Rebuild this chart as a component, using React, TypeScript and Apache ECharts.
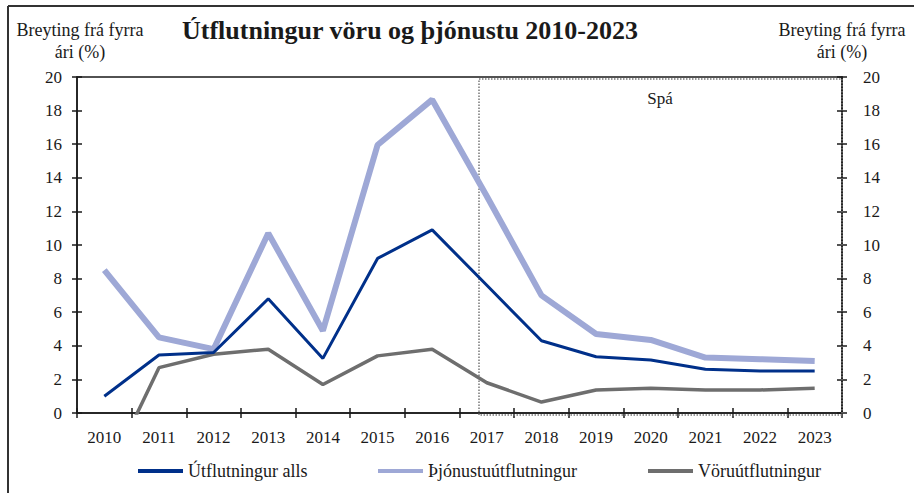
import React, { useEffect, useRef } from "react";
import * as echarts from "echarts";

const years = ["2010", "2011", "2012", "2013", "2014", "2015", "2016", "2017", "2018", "2019", "2020", "2021", "2022", "2023"];
const totalExports = [1.0, 3.45, 3.6, 6.8, 3.25, 9.2, 10.9, 7.6, 4.3, 3.35, 3.15, 2.6, 2.5, 2.5];
const serviceExports = [8.5, 4.5, 3.8, 10.7, 4.9, 15.95, 18.65, 12.9, 7.0, 4.7, 4.35, 3.3, 3.2, 3.1];
const goodsExports = [-4.1, 2.7, 3.5, 3.8, 1.7, 3.4, 3.8, 1.8, 0.65, 1.37, 1.47, 1.37, 1.37, 1.47];
const seriesNames = ["Útflutningur alls", "Þjónustuútflutningur", "Vöruútflutningur"];
const titleText = "Útflutningur vöru og þjónustu 2010-2023";
const axisName = "Breyting frá fyrra\nári (%)";
const forecastLabel = "Spá";

const FONT = "Liberation Serif";
const INK = "#1a1a1a";
const COLORS = ["#00308a", "#9ea8d6", "#6e6e6e"];

export default function App() {
  const ref = useRef<HTMLDivElement>(null);
  useEffect(() => {
    if (!ref.current) return;
    const chart = echarts.init(ref.current, undefined, { renderer: "svg" });
    const yMain = (pos: "left" | "right", margin: number) => ({
      type: "value",
      position: pos,
      min: 0,
      max: 20,
      interval: 2,
      name: axisName,
      nameLocation: "end",
      nameGap: 14,
      nameTextStyle: {
        fontFamily: FONT,
        fontSize: 18,
        color: INK,
        align: "center",
        verticalAlign: "bottom",
        lineHeight: 22,
        padding: pos === "left" ? [0, 0, 0, 6] : [0, 0, 0, 0],
      },
      axisLine: { show: true, lineStyle: { color: INK, width: 1.5 } },
      axisTick: { show: true, inside: false, length: 5, lineStyle: { color: INK, width: 1.5 } },
      axisLabel: { fontFamily: FONT, fontSize: 17, color: INK, margin },
      splitLine: { show: false },
    });
    const yInner = (pos: "left" | "right") => ({
      type: "value",
      position: pos,
      min: 0,
      max: 20,
      interval: 2,
      axisLine: { show: false },
      axisTick: { show: true, inside: true, length: 5, lineStyle: { color: INK, width: 1.5 } },
      axisLabel: { show: false },
      splitLine: { show: false },
    });
    const legendCommon = {
      top: 457,
      icon: "rect",
      itemWidth: 45,
      itemHeight: 4,
      textStyle: { fontFamily: FONT, fontSize: 18, color: INK },
    };
    chart.setOption({
      animation: false,
      backgroundColor: "#ffffff",
      textStyle: { fontFamily: FONT },
      grid: {
        left: 77,
        right: 72,
        top: 77,
        bottom: 80,
        show: true,
        borderColor: INK,
        borderWidth: 1.5,
        containLabel: false,
      },
      title: {
        text: titleText,
        left: 405,
        textAlign: "center",
        top: 12,
        textStyle: { fontFamily: FONT, fontSize: 26, fontWeight: "bold", color: INK },
      },
      legend: [
        { ...legendCommon, left: 133, data: [seriesNames[0]] },
        { ...legendCommon, left: 373, data: [seriesNames[1]] },
        { ...legendCommon, left: 643, data: [seriesNames[2]] },
      ],
      xAxis: [
        {
          type: "category",
          data: years,
          boundaryGap: true,
          position: "bottom",
          axisLine: { show: true, lineStyle: { color: INK, width: 1.5 } },
          axisTick: { show: true, inside: false, length: 5, lineStyle: { color: INK, width: 1.5 } },
          axisLabel: { fontFamily: FONT, fontSize: 17, color: INK, margin: 16, interval: 0 },
        },
        {
          type: "category",
          data: years,
          boundaryGap: true,
          position: "bottom",
          axisLine: { show: false },
          axisTick: { show: true, inside: true, length: 5, lineStyle: { color: INK, width: 1.5 } },
          axisLabel: { show: false },
        },
      ],
      yAxis: [yMain("left", 15), yMain("right", 21), yInner("left"), yInner("right")],
      graphic: [
        {
          type: "rect",
          shape: { x: 479, y: 79, width: 363, height: 336 },
          style: { fill: "none", stroke: "#777777", lineWidth: 1.5, lineDash: [1.5, 1.5] },
          silent: true,
          z: 1,
        },
        {
          type: "text",
          x: 660,
          y: 98,
          style: {
            text: forecastLabel,
            fontFamily: FONT,
            fontSize: 17,
            fill: INK,
            align: "center",
            verticalAlign: "middle",
          },
        },
        {
          type: "line",
          shape: { x1: 8, y1: 6, x2: 914, y2: 6 },
          style: { stroke: "#333333", lineWidth: 2 },
        },
        {
          type: "line",
          shape: { x1: 8, y1: 6, x2: 8, y2: 493 },
          style: { stroke: "#333333", lineWidth: 2 },
        },
      ],
      series: [
        {
          name: seriesNames[0],
          type: "line",
          data: totalExports,
          xAxisIndex: 0,
          yAxisIndex: 0,
          symbol: "none",
          color: COLORS[0],
          lineStyle: { color: COLORS[0], width: 3 },
          z: 4,
        },
        {
          name: seriesNames[1],
          type: "line",
          data: serviceExports,
          xAxisIndex: 0,
          yAxisIndex: 0,
          symbol: "none",
          color: COLORS[1],
          lineStyle: { color: COLORS[1], width: 6 },
          z: 3,
        },
        {
          name: seriesNames[2],
          type: "line",
          data: goodsExports,
          xAxisIndex: 0,
          yAxisIndex: 0,
          symbol: "none",
          color: COLORS[2],
          lineStyle: { color: COLORS[2], width: 3.5 },
          clip: true,
          z: 3,
        },
      ],
    });
    return () => chart.dispose();
  }, []);
  return (
    <div
      ref={ref}
      style={{ position: "fixed", left: 0, top: 0, width: 914, height: 493, background: "#fff" }}
    />
  );
}
